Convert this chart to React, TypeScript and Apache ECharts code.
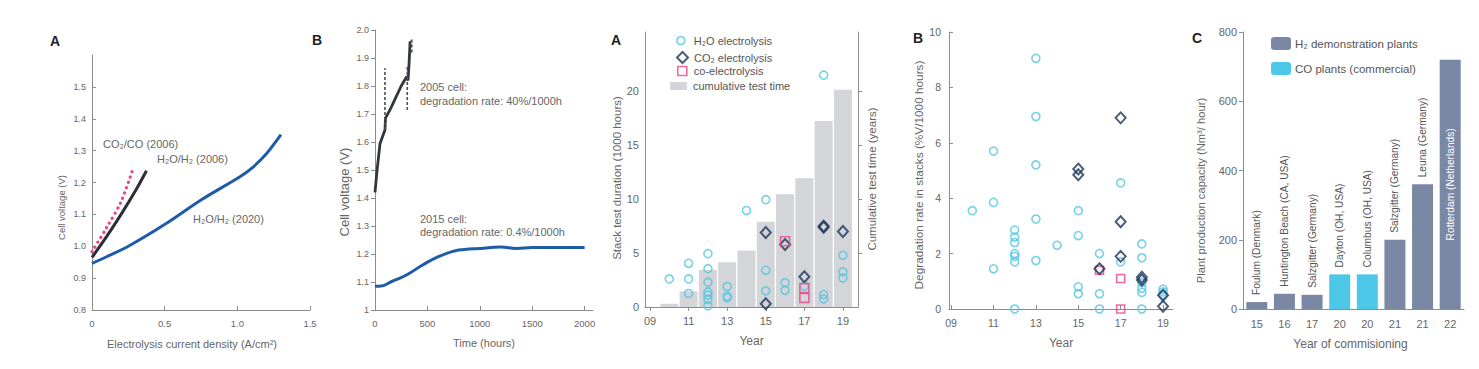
import React, { useEffect, useRef } from "react";
import * as echarts from "echarts";

// ---------- Panel A (left): polarisation curves ----------
const co2co2006: number[][] = [[0, 0.983], [0.1, 1.058], [0.2, 1.14], [0.283, 1.244]];
const h2o2006: number[][] = [[0, 0.965], [0.1, 1.03], [0.2, 1.1], [0.3, 1.175], [0.375, 1.237]];
const h2o2020: number[][] = [[0, 0.946], [0.1, 0.967], [0.25, 1.0], [0.513, 1.072], [0.75, 1.145], [1.018, 1.218], [1.1, 1.245], [1.2, 1.29], [1.3, 1.35]];

// ---------- Panel B (left): durability ----------
const cell2005: number[][] = [[0, 1.42], [20, 1.5], [48, 1.595], [95, 1.643], [100, 1.685], [150, 1.72], [200, 1.76], [250, 1.8], [302, 1.833], [315, 1.82], [325, 1.88], [335, 1.96]];
const cell2005Spike1: number[][] = [[95, 1.643], [95, 1.863]];
const cell2005Spike2: number[][] = [[308, 1.714], [308, 1.869]];
const cell2005Spike3: number[][] = [[349, 1.92], [349, 1.97]];
const cell2015: number[][] = [[0, 1.085], [60, 1.086], [150, 1.1], [300, 1.125], [450, 1.16], [600, 1.19], [750, 1.21], [850, 1.216], [1000, 1.22], [1200, 1.225], [1350, 1.22], [1500, 1.223], [2000, 1.223]];

// ---------- Panel A (middle): stack test duration ----------
const cumYears = [10, 11, 12, 13, 14, 15, 16, 17, 18, 19];
const cumTestTime = [0.3, 1.45, 3.45, 4.15, 5.25, 7.9, 10.45, 11.95, 17.25, 20.15];
const h2oDuration: number[][] = [[10, 2.6], [11, 4.05], [11, 2.6], [11, 1.25], [12, 4.95], [12, 3.55], [12, 2.3], [12, 1.4], [12, 1.1], [12, 0.7], [12, 0.1], [13, 1.9], [13, 1.0], [13, 0.85], [14, 8.95], [15, 9.95], [15, 3.4], [15, 1.5], [16, 2.25], [16, 1.55], [17, 1.95], [18, 21.5], [18, 1.15], [18, 0.75], [19, 4.8], [19, 3.25], [19, 2.7]];
const co2Duration: number[][] = [[15, 6.9], [15, 0.3], [16, 5.8], [17, 2.8], [18, 7.4], [18, 7.5], [19, 7.0]];
const coElDuration: number[][] = [[16, 6.1], [17, 1.75], [17, 0.85]];

// ---------- Panel B (right): degradation rate ----------
const h2oDeg: number[][] = [[10, 3.55], [11, 10.2], [11, 5.7], [11, 3.85], [11, 1.45], [12, 2.85], [12, 2.6], [12, 2.4], [12, 2.0], [12, 1.9], [12, 1.7], [12, 0], [13, 9.05], [13, 6.95], [13, 5.2], [13, 3.25], [13, 1.75], [14, 2.3], [15, 3.55], [15, 2.65], [15, 0.8], [15, 0.55], [16, 2.0], [16, 0.55], [16, 0], [17, 4.55], [17, 1.7], [18, 2.35], [18, 1.85], [18, 0.95], [18, 0.75], [18, 0.6], [18, 0], [19, 0.72], [19, 0.62], [19, 0.52]];
const co2Deg: number[][] = [[15, 5.05], [15, 4.85], [16, 1.45], [17, 6.9], [17, 3.15], [17, 1.9], [18, 1.15], [18, 1.05], [19, 0.5], [19, 0.1]];
const coElDeg: number[][] = [[16, 1.4], [17, 1.1], [17, 0]];

// ---------- Panel C: plants ----------
const plantNames = ["Foulum (Denmark)", "Huntington Beach (CA, USA)", "Salzgitter (Germany)", "Dayton (OH, USA)", "Columbus (OH, USA)", "Salzgitter (Germany)", "Leuna (Germany)", "Rotterdam (Netherlands)"];
const plantYears = ["15", "16", "17", "20", "20", "21", "21", "22"];
const plantCapacity = [20, 44, 41, 100, 100, 200, 360, 720];
const plantType = ["H2", "H2", "H2", "CO", "CO", "H2", "H2", "H2"];

const yearTicks = [9, 11, 13, 15, 17, 19];

const FONT = "Liberation Sans";
const AXIS = "#8c8c8c";
const TXT = "#666";
const CYAN = "#55c6e2";
const NAVY = "#1e3556";
const PINK = "#e8468a";
const BARGRAY = "#d3d5d8";
const SLATE = "#7a88a6";
const BLUE = "#1f5ca8";

const N_H2O = "H\u2082O electrolysis";
const N_CO2 = "CO\u2082 electrolysis";
const N_COEL = "co-electrolysis";
const N_CUM = "cumulative test time";
const N_H2P = "H\u2082 demonstration plants";
const N_COP = "CO plants (commercial)";

const pad2 = (v: number) => (v < 10 ? "0" + v : String(v));

export default function App() {
  const ref = useRef<HTMLDivElement>(null);
  useEffect(() => {
    if (!ref.current) return;
    const chart = echarts.init(ref.current, undefined, { renderer: "svg" });
    const axLine = { show: true, lineStyle: { color: AXIS, width: 1 } };
    const lbl = (fs: number, extra: any = {}) => ({ color: TXT, fontSize: fs, fontFamily: FONT, ...extra });
    const nameStyle = (fs: number, padding: number[] = [0, 0, 0, 0]) => ({ color: TXT, fontSize: fs, fontFamily: FONT, padding });

    const circleStyle = { color: "transparent", borderColor: CYAN, borderWidth: 1.6 };
    const diamondStyle = { color: "transparent", borderColor: NAVY, borderWidth: 2 };
    const squareStyle = { color: "transparent", borderColor: PINK, borderWidth: 1.6 };

    const legendText = (padLeft: number) => ({ color: "#555", fontSize: 11, fontFamily: FONT, padding: [0, 0, 0, padLeft] });
    const oneLegend = (name: string, icon: string, itemStyle: any, left: number, top: number, w: number, h: number, padLeft: number) => ({
      orient: "vertical", left, top, itemWidth: w, itemHeight: h, selectedMode: false,
      textStyle: legendText(padLeft),
      data: [{ name, icon, itemStyle }],
    });
    const note = (text: string, left: number, top: number) => ({
      type: "text", left, top, style: { text, fontSize: 11, fill: TXT, fontFamily: FONT },
    });
    const letter = (text: string, left: number, top: number) => ({
      type: "text", left, top, style: { text, fontSize: 14, fontWeight: "bold", fill: "#222", fontFamily: FONT },
    });

    const option: any = {
      animation: false,
      textStyle: { fontFamily: FONT },
      grid: [
        { left: 92, top: 55, width: 218, height: 255 },
        { left: 375, top: 30, width: 218, height: 280 },
        { left: 645, top: 32, width: 213, height: 275 },
        { left: 949, top: 32, width: 224, height: 277 },
        { left: 1243, top: 32, width: 221, height: 277 },
      ],
      xAxis: [
        {
          gridIndex: 0, type: "value", min: 0, max: 1.5, interval: 0.5,
          axisLine: axLine, splitLine: { show: false },
          axisTick: { show: true, inside: true, length: 4, lineStyle: { color: AXIS } },
          axisLabel: lbl(9.5, { margin: 8, formatter: (v: number) => (v === 0 ? "0" : v.toFixed(1)) }),
          name: "Electrolysis current density (A/cm\u00b2)", nameLocation: "middle", nameGap: 28, nameTextStyle: nameStyle(11, [0, 18, 0, 0]),
        },
        {
          gridIndex: 1, type: "value", min: 0, max: 2080, interval: 500,
          axisLine: axLine, splitLine: { show: false },
          axisTick: { show: true, inside: true, length: 4, lineStyle: { color: AXIS } },
          axisLabel: lbl(9.5, { margin: 8, showMaxLabel: false, formatter: (v: number) => String(v) }),
          name: "Time (hours)", nameLocation: "middle", nameGap: 27, nameTextStyle: nameStyle(11),
        },
        {
          gridIndex: 2, type: "value", min: 8.74, max: 19.78,
          axisLine: axLine, splitLine: { show: false },
          axisTick: { show: true, inside: false, length: 4, customValues: yearTicks, lineStyle: { color: AXIS } },
          axisLabel: lbl(11, { margin: 8, customValues: yearTicks, formatter: (v: number) => pad2(Math.round(v)) }),
          name: "Year", nameLocation: "middle", nameGap: 28, nameTextStyle: nameStyle(12),
        },
        {
          gridIndex: 3, type: "value", min: 8.9, max: 19.47,
          axisLine: axLine, splitLine: { show: false },
          axisTick: { show: true, inside: true, length: 4, customValues: yearTicks, lineStyle: { color: AXIS } },
          axisLabel: lbl(10.5, { margin: 8, customValues: yearTicks, formatter: (v: number) => pad2(Math.round(v)) }),
          name: "Year", nameLocation: "middle", nameGap: 28, nameTextStyle: nameStyle(12),
        },
        {
          gridIndex: 4, type: "category", data: plantYears,
          axisLine: axLine, axisTick: { show: false },
          axisLabel: lbl(11, { margin: 9 }),
          name: "Year of commisioning", nameLocation: "middle", nameGap: 29, nameTextStyle: nameStyle(12, [0, 6, 0, 0]),
        },
      ],
      yAxis: [
        {
          gridIndex: 0, type: "value", min: 0.8, max: 1.6, interval: 0.1,
          axisLine: axLine, splitLine: { show: false },
          axisTick: { show: true, inside: true, length: 4, lineStyle: { color: AXIS } },
          axisLabel: lbl(9, { margin: 6, showMaxLabel: false, formatter: (v: number) => v.toFixed(1) }),
          name: "Cell voltage (V)", nameLocation: "middle", nameRotate: 90, nameGap: 26, nameTextStyle: nameStyle(9.5, [0, 50, 0, 0]),
        },
        {
          gridIndex: 1, type: "value", min: 1, max: 2, interval: 0.1,
          axisLine: axLine, splitLine: { show: false },
          axisTick: { show: true, inside: false, length: 4, lineStyle: { color: AXIS } },
          axisLabel: lbl(9, { margin: 6, formatter: (v: number) => (Math.abs(v - 1) < 1e-9 ? "1" : v.toFixed(1)) }),
          name: "Cell voltage (V)", nameLocation: "middle", nameRotate: 90, nameGap: 24, nameTextStyle: nameStyle(13, [0, 44, 0, 0]),
        },
        {
          gridIndex: 2, type: "value", min: 0, max: 25.5,
          axisLine: axLine, splitLine: { show: false },
          axisTick: { show: false },
          axisLabel: lbl(11, { margin: 6, customValues: [0, 5, 10, 15, 20] }),
          name: "Stack test duration (1000 hours)", nameLocation: "middle", nameRotate: 90, nameGap: 22, nameTextStyle: nameStyle(11.5, [0, 17, 0, 0]),
        },
        {
          gridIndex: 2, type: "value", min: 0, max: 25.5, position: "right",
          axisLine: axLine, splitLine: { show: false },
          axisTick: { show: true, inside: false, length: 4, customValues: [5, 10, 15, 20], lineStyle: { color: AXIS } },
          axisLabel: { show: false },
          name: "Cumulative test time (years)", nameLocation: "middle", nameRotate: 90, nameGap: 8, nameTextStyle: nameStyle(11.5, [0, 19, 0, 0]),
        },
        {
          gridIndex: 3, type: "value", min: 0, max: 10, interval: 2,
          axisLine: axLine, splitLine: { show: false },
          axisTick: { show: true, inside: true, length: 4, lineStyle: { color: AXIS } },
          axisLabel: lbl(10.5, { margin: 8 }),
          name: "Degradation rate in stacks (%V/1000 hours)", nameLocation: "middle", nameRotate: 90, nameGap: 21, nameTextStyle: nameStyle(11.8, [0, 9, 0, 0]),
        },
        {
          gridIndex: 4, type: "value", min: 0, max: 800, interval: 200,
          axisLine: axLine, splitLine: { show: false },
          axisTick: { show: true, inside: false, length: 4, lineStyle: { color: AXIS } },
          axisLabel: lbl(11, { margin: 6 }),
          name: "Plant production capacity (Nm\u00b3/ hour)", nameLocation: "middle", nameRotate: 90, nameGap: 37, nameTextStyle: nameStyle(11.2, [0, 40, 0, 0]),
        },
      ],
      legend: [
        oneLegend(N_H2O, "circle", circleStyle, 671, 30, 8, 8, 4),
        oneLegend(N_CO2, "diamond", diamondStyle, 671, 46, 11, 11, 1),
        oneLegend(N_COEL, "rect", squareStyle, 672, 60.5, 9, 9, 2),
        oneLegend(N_CUM, "rect", { color: BARGRAY }, 665, 75.5, 17, 8, 1),
        {
          orient: "vertical", left: 1266, top: 32, itemGap: 12, itemWidth: 20, itemHeight: 13,
          textStyle: { color: "#555", fontSize: 11.5, fontFamily: FONT, padding: [0, 0, 0, -1] },
          data: [N_H2P, N_COP],
          selectedMode: false,
        },
      ],
      series: [
        // Panel A left
        { type: "line", xAxisIndex: 0, yAxisIndex: 0, data: co2co2006, smooth: 0.3, showSymbol: false,
          lineStyle: { color: PINK, width: 3.2, type: [0.1, 5.5], cap: "round" } },
        { type: "line", xAxisIndex: 0, yAxisIndex: 0, data: h2o2006, smooth: 0.3, showSymbol: false,
          lineStyle: { color: "#2b2f35", width: 3 } },
        { type: "line", xAxisIndex: 0, yAxisIndex: 0, data: h2o2020, smooth: 0.3, showSymbol: false,
          lineStyle: { color: BLUE, width: 3 } },
        // Panel B left
        { type: "line", xAxisIndex: 1, yAxisIndex: 1, data: cell2005, showSymbol: false,
          lineStyle: { color: "#33363b", width: 2.8 } },
        { type: "line", xAxisIndex: 1, yAxisIndex: 1, data: cell2005Spike1, showSymbol: false,
          lineStyle: { color: "#4a4d52", width: 1.6, type: [3, 2] } },
        { type: "line", xAxisIndex: 1, yAxisIndex: 1, data: cell2005Spike2, showSymbol: false,
          lineStyle: { color: "#4a4d52", width: 1.6, type: [3, 2] } },
        { type: "line", xAxisIndex: 1, yAxisIndex: 1, data: cell2005Spike3, showSymbol: false,
          lineStyle: { color: "#4a4d52", width: 2, type: [3, 2] } },
        { type: "line", xAxisIndex: 1, yAxisIndex: 1, data: cell2015, smooth: true, showSymbol: false,
          lineStyle: { color: BLUE, width: 3 } },
        // Panel A middle
        { name: N_CUM, type: "bar", xAxisIndex: 2, yAxisIndex: 3, barWidth: 18,
          data: cumYears.map((y, i) => [y, cumTestTime[i]]), itemStyle: { color: BARGRAY } },
        { name: N_H2O, type: "scatter", xAxisIndex: 2, yAxisIndex: 2, data: h2oDuration, symbol: "circle", symbolSize: 8, itemStyle: circleStyle },
        { name: N_CO2, type: "scatter", xAxisIndex: 2, yAxisIndex: 2, data: co2Duration, symbol: "diamond", symbolSize: [10, 11], itemStyle: diamondStyle },
        { name: N_COEL, type: "scatter", xAxisIndex: 2, yAxisIndex: 2, data: coElDuration, symbol: "rect", symbolSize: 9, itemStyle: squareStyle },
        // Panel B right
        { name: N_H2O, type: "scatter", xAxisIndex: 3, yAxisIndex: 4, data: h2oDeg, symbol: "circle", symbolSize: 8, itemStyle: circleStyle },
        { name: N_COEL, type: "scatter", xAxisIndex: 3, yAxisIndex: 4, data: coElDeg, symbol: "rect", symbolSize: 8, itemStyle: squareStyle },
        { name: N_CO2, type: "scatter", xAxisIndex: 3, yAxisIndex: 4, data: co2Deg, symbol: "diamond", symbolSize: [10, 11], itemStyle: diamondStyle },
        // Panel C
        {
          name: N_H2P, type: "bar", xAxisIndex: 4, yAxisIndex: 5, barWidth: 21, barGap: "-100%",
          itemStyle: { color: SLATE },
          data: plantCapacity.map((v, i) => {
            if (plantType[i] !== "H2") return "-";
            if (v > 600) return { value: v, label: { position: "inside", color: "#fff", align: "center", distance: 0 } };
            return v;
          }),
          label: { show: true, position: "top", rotate: 90, align: "left", verticalAlign: "middle", distance: 7,
            color: "#555", fontSize: 10.2, fontFamily: FONT, formatter: (p: any) => plantNames[p.dataIndex] },
        },
        {
          name: N_COP, type: "bar", xAxisIndex: 4, yAxisIndex: 5, barWidth: 21, barGap: "-100%",
          itemStyle: { color: "#4ec8e8" },
          data: plantCapacity.map((v, i) => (plantType[i] === "CO" ? v : "-")),
          label: { show: true, position: "top", rotate: 90, align: "left", verticalAlign: "middle", distance: 7,
            color: "#555", fontSize: 10.2, fontFamily: FONT, formatter: (p: any) => plantNames[p.dataIndex] },
        },
      ],
      graphic: [
        letter("A", 50, 34),
        letter("B", 312, 33),
        letter("A", 611, 33),
        letter("B", 913, 31),
        letter("C", 1192, 31),
        note("CO\u2082/CO (2006)", 103, 138.5),
        note("H\u2082O/H\u2082 (2006)", 157, 153.5),
        note("H\u2082O/H\u2082 (2020)", 193, 213.5),
        note("2005 cell:", 420, 81.5),
        note("degradation rate: 40%/1000h", 420, 95.5),
        note("2015 cell:", 420, 213.5),
        note("degradation rate: 0.4%/1000h", 420, 226.5),
      ],
    };
    chart.setOption(option);
    return () => chart.dispose();
  }, []);
  return <div ref={ref} style={{ position: "absolute", left: 0, top: 0, width: 1479, height: 369, background: "#fff" }} />;
}
